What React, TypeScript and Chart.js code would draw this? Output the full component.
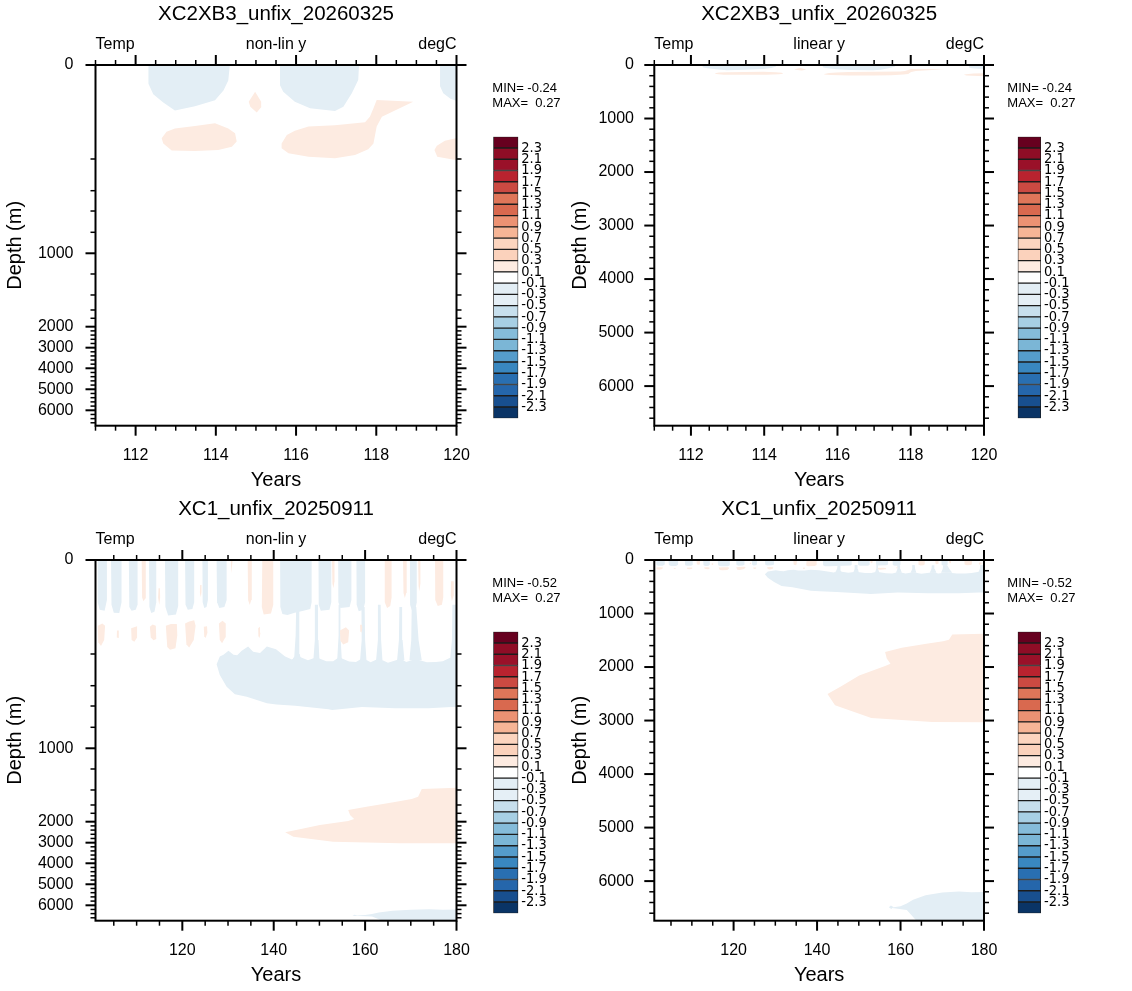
import { useEffect, useRef } from 'react';
import { Chart, registerables } from 'chart.js';

Chart.register(...registerables);

const FONT = "'Liberation Sans', Arial, Helvetica, sans-serif";
const NARROW_FONT = "'Liberation Sans Narrow', 'DejaVu Sans Condensed', 'Liberation Sans', sans-serif";

// Contour levels (degC) and the 25 fill colours between them, coldest first.
const CONTOUR_LEVELS = [-2.3, -2.1, -1.9, -1.7, -1.5, -1.3, -1.1, -0.9, -0.7, -0.5, -0.3, -0.1, 0.1, 0.3, 0.5, 0.7, 0.9, 1.1, 1.3, 1.5, 1.7, 1.9, 2.1, 2.3];
const CONTOUR_COLORS = [
  '#0a3466', '#184f8f', '#2566ab', '#296fb1', '#3987c0', '#559ccb', '#7bb6d6', '#85bcda', '#a7cfe4',
  '#c7dfed', '#e5eff6', '#e3eef5', '#ffffff', '#fdebe1', '#fbd2bc', '#fcd5bf', '#f6b596', '#ec9273',
  '#d9694f', '#df7659', '#cb4a42', '#b9232f', '#9a1129', '#8f0d26', '#67001f',
];

// Depth axis (m)
const MAX_DEPTH = 6740;
const DEPTH_TICKS = [0, 1000, 2000, 3000, 4000, 5000, 6000];
const DEPTH_MINOR_STEP = 200;
// Model-level (non-linear) depth axis: depth knots and their position down the axis (0 = surface, 1 = bottom)
const LEVEL_DEPTHS = [0, 200, 400, 600, 800, 1000, 1200, 1400, 1600, 1800, 2000, 3000, 4000, 5000, 6000, 6740];
const LEVEL_POSITIONS = [0, 0.2606, 0.3485, 0.4048, 0.4638, 0.522, 0.5794, 0.6376, 0.6792, 0.7022, 0.7255, 0.7837, 0.8408, 0.899, 0.9573, 1];

// Anomaly classes used for the shaded regions (degC)
const WARM_CLASS = 0.2;
const COOL_CLASS = -0.2;

type Pt = [number, number]; // [year, depth]

// ---- XC2XB3_unfix_20260325 (years 111-120) ----
const XC2XB3_YEARS = [111, 120];
const XC2XB3_YEAR_TICKS = [112, 114, 116, 118, 120];
const XC2XB3_MIN = -0.24;
const XC2XB3_MAX = 0.27;
const XC2XB3_WARM: Pt[][] = [
  [[114.98, 57], [114.82, 78], [114.86, 89], [115.02, 101], [115.14, 89], [115.13, 78]],
  [[112.65, 156], [112.77, 142], [112.98, 135], [113.48, 130], [113.98, 124], [114.31, 135], [114.48, 145], [114.52, 163], [114.4, 174], [114.06, 181], [113.48, 183], [112.9, 182], [112.69, 167]],
  [[115.64, 167], [115.77, 149], [115.97, 140], [116.31, 131], [116.97, 128], [117.72, 122], [117.84, 110], [117.93, 92], [118.01, 74.5], [118.92, 78], [118.14, 110], [118.01, 131], [117.93, 167], [117.8, 179.5], [117.47, 191.5], [116.97, 198.5], [116.31, 195], [115.81, 188], [115.64, 177]],
  [[120.2, 152], [119.71, 161], [119.51, 172], [119.45, 181], [119.52, 195], [120.2, 217]],
];
const XC2XB3_COOL: Pt[][] = [
  [[112.32, 0], [112.32, 40], [112.44, 62], [112.69, 80], [112.98, 97], [113.48, 88], [113.98, 75], [114.19, 54], [114.31, 33], [114.35, 0]],
  [[115.6, 0], [115.6, 43], [115.68, 57], [115.97, 78], [116.35, 92], [116.97, 98], [117.18, 89], [117.39, 60], [117.55, 32], [117.57, 0]],
  [[119.59, 0], [119.59, 45], [119.67, 60], [119.85, 72], [120.2, 82], [120.2, 0]],
];

// ---- XC1_unfix_20250911 (years 101-180) ----
const XC1_YEARS = [101, 180];
const XC1_YEAR_TICKS = [120, 140, 160, 180];
const XC1_MIN = -0.52;
const XC1_MAX = 0.27;
const XC1_WARM: Pt[][] = [
  // near-surface streaks
  [[111.1, 0], [111.2, 80], [111.5, 88], [111.9, 82], [112.0, 0]],
  [[114.8, 60], [114.7, 80], [114.95, 96], [115.15, 80], [115.1, 60]],
  [[123.9, 53], [123.85, 70], [124.05, 79], [124.2, 68], [124.2, 53]],
  [[130.6, 0], [130.75, 28], [131.0, 0]],
  [[134.3, 0], [134.4, 85], [134.75, 96], [135.1, 85], [135.2, 0]],
  [[137.5, 0], [137.4, 100], [137.8, 116], [139.4, 114], [139.9, 95], [139.9, 0]],
  [[152.75, 0], [152.85, 50], [153.05, 60], [153.3, 45], [153.3, 0]],
  [[164.3, 0], [164.3, 90], [164.8, 102], [165.5, 98], [165.8, 80], [165.8, 0]],
  [[168.3, 0], [168.4, 70], [168.7, 81], [169.0, 70], [169.1, 0]],
  [[171.6, 0], [171.7, 55], [171.85, 67], [172.1, 50], [172.1, 0]],
  [[175.3, 0], [175.35, 85], [175.9, 98], [176.8, 95], [177.1, 80], [177.1, 0]],
  [[178.8, 45], [178.75, 75], [179.0, 88], [179.4, 75], [179.4, 45]],
  // sub-surface lenses
  [[101.5, 140], [101.6, 175], [102.2, 183], [102.9, 170], [103.1, 140], [102.5, 135]],
  [[105.7, 150], [105.65, 165], [106.1, 166], [106.1, 150]],
  [[108.8, 145], [108.9, 170], [109.5, 174], [110.1, 165], [110.1, 141]],
  [[112.9, 142], [113.1, 165], [113.7, 171], [114.3, 168], [114.2, 140], [113.5, 137]],
  [[116.4, 140], [116.7, 185], [117.3, 191], [118.5, 188], [118.9, 160], [118.8, 136], [117.5, 136]],
  [[120.6, 135], [120.9, 180], [121.5, 186], [122.5, 170], [122.9, 140], [122.6, 128], [121.5, 131]],
  [[124.7, 142], [124.8, 162], [125.1, 166], [125.5, 155], [125.4, 141]],
  [[128.0, 135], [128.2, 170], [128.7, 177], [129.4, 165], [129.5, 135], [128.8, 129]],
  [[136.6, 145], [136.65, 162], [136.9, 166], [137.1, 155], [137.0, 142]],
  [[154.5, 150], [154.6, 172], [155.2, 180], [156.3, 175], [156.5, 150], [155.8, 143]],
  [[158.9, 138], [158.95, 152], [159.2, 155], [159.4, 145], [159.3, 138]],
  // deep warm tongue
  [[180.5, 1378], [172.4, 1390], [171.6, 1489], [170.2, 1520], [166.2, 1564], [160.3, 1641], [156.3, 1720], [156.7, 1841], [157.6, 1937], [156.3, 1983], [150.1, 2157], [145.7, 2362], [142.5, 2505], [144.3, 2714], [153.0, 2952], [167.6, 3029], [180.5, 3030]],
];
const XC1_COOL: Pt[][] = [
  // near-surface streaks
  [[101.5, 0], [101.5, 90], [101.9, 106], [103.0, 108], [103.5, 85], [103.5, 0]],
  [[104.4, 0], [104.5, 95], [105.0, 112], [106.2, 113], [106.7, 90], [106.7, 0]],
  [[108.3, 0], [108.4, 100], [108.9, 108], [109.8, 106], [110.2, 95], [110.2, 0]],
  [[112.7, 0], [112.8, 100], [113.2, 113], [113.9, 110], [114.3, 90], [114.3, 0]],
  [[116.2, 0], [116.3, 100], [116.9, 118], [118.6, 116], [119.1, 98], [119.1, 0]],
  [[120.6, 0], [120.7, 95], [121.2, 106], [122.2, 104], [122.6, 90], [122.6, 0]],
  [[124.4, 0], [124.45, 90], [124.8, 102], [125.3, 100], [125.6, 85], [125.6, 0]],
  [[127.5, 0], [127.6, 90], [128.1, 102], [129.2, 100], [129.7, 85], [129.7, 0]],
  [[141.4, 0], [141.45, 100], [141.9, 115], [143.0, 117], [144.6, 112], [146.5, 108], [148.0, 104], [148.3, 90], [148.3, 0]],
  [[149.8, 0], [149.85, 95], [150.3, 108], [152.2, 106], [152.6, 90], [152.6, 0]],
  [[154.1, 0], [154.15, 90], [154.6, 102], [156.6, 100], [157.0, 85], [157.0, 0]],
  [[158.1, 0], [158.15, 95], [158.6, 109], [159.6, 106], [160.0, 90], [160.0, 0]],
  [[169.8, 0], [169.85, 95], [170.3, 109], [171.0, 105], [171.3, 90], [171.3, 0]],
  // fingers joining the streaks to the sub-surface cool layer
  [[144.9, 108], [144.8, 160], [144.5, 215], [144.0, 240], [146.0, 240], [145.7, 200], [145.6, 160], [145.6, 108]],
  [[149.0, 95], [149.0, 170], [148.7, 230], [150.0, 235], [149.8, 170], [149.7, 95]],
  [[154.2, 95], [154.2, 160], [153.9, 235], [154.9, 235], [154.6, 160], [154.6, 95]],
  [[159.2, 100], [159.25, 170], [158.9, 240], [160.3, 240], [160.0, 170], [159.9, 100]],
  [[162.8, 95], [162.8, 170], [162.4, 240], [163.8, 240], [163.5, 170], [163.4, 95]],
  [[167.5, 100], [167.4, 170], [167.0, 240], [168.6, 240], [168.2, 170], [168.1, 100]],
  [[170.2, 100], [170.1, 170], [169.7, 240], [172.4, 240], [171.7, 170], [171.2, 100]],
  [[179.1, 95], [179.0, 170], [178.6, 235], [180.5, 235], [180.5, 95]],
  // sub-surface cool layer
  [[127.5, 265], [128.2, 215], [129.0, 204], [130.1, 193], [131.2, 204], [132.0, 208], [133.0, 193], [134.4, 184], [135.5, 195], [137.0, 198], [138.5, 184], [140.5, 190], [142.5, 215], [144.0, 235], [145.5, 215], [147.5, 240], [149.3, 220], [151.5, 245], [153.0, 245], [154.3, 220], [156.5, 248], [158.0, 250], [159.5, 225], [161.2, 252], [163.0, 228], [165.0, 255], [167.8, 230], [169.0, 250], [171.0, 232], [173.5, 252], [175.5, 250], [177.0, 245], [178.5, 225], [180.5, 225],
   [180.5, 609], [178.9, 609], [173.9, 622], [166.6, 622], [159.3, 609], [152.8, 637], [152.0, 631], [144.7, 597], [140.6, 584], [138.5, 574], [134.1, 508], [131.5, 485], [129.7, 410], [128.2, 333]],
  // bottom water
  [[157.5, 6500], [160, 6470], [161.5, 6420], [163, 6350], [166, 6265], [170, 6215], [174, 6195], [177, 6210], [180.5, 6200], [180.5, 6800], [164.5, 6800], [161.5, 6540]],
  [[157.2, 6490], [157.7, 6455], [158.3, 6485], [157.8, 6520]],
];

type AxisKind = 'levels' | 'linear';

interface PanelSpec {
  id: string;
  pageX: number;
  pageY: number;
  plotLeft: number;
  plotRight: number;
  yLabelPad: number;
  yTitlePad: number;
  axis: AxisKind;
  title: string;
  years: number[];
  yearTicks: number[];
  yearMinorStep: number;
  warm: Pt[][];
  cool: Pt[][];
  min: number;
  max: number;
  statsX: number;
}

interface BarSpec {
  id: string;
  pageX: number;
  pageY: number;
  padLeft: number;
  padTop: number;
  padBottom: number;
  axisWidth: number;
}

const CANVAS_W = 566;
const CANVAS_H = 495;
const PLOT_TOP = 65;
const PLOT_BOTTOM = 425.7;

const PANELS: PanelSpec[] = [
  { id: 'tl', pageX: 0, pageY: 0, plotLeft: 95.5, plotRight: 456.5, yLabelPad: 22, yTitlePad: 3, axis: 'levels', title: 'XC2XB3_unfix_20260325', years: XC2XB3_YEARS, yearTicks: XC2XB3_YEAR_TICKS, yearMinorStep: 0.5, warm: XC2XB3_WARM, cool: XC2XB3_COOL, min: XC2XB3_MIN, max: XC2XB3_MAX, statsX: 492.3 },
  { id: 'tr', pageX: 566, pageY: 0, plotLeft: 88.3, plotRight: 418, yLabelPad: 20.3, yTitlePad: 2.5, axis: 'linear', title: 'XC2XB3_unfix_20260325', years: XC2XB3_YEARS, yearTicks: XC2XB3_YEAR_TICKS, yearMinorStep: 0.5, warm: XC2XB3_WARM, cool: XC2XB3_COOL, min: XC2XB3_MIN, max: XC2XB3_MAX, statsX: 441.3 },
  { id: 'bl', pageX: 0, pageY: 495, plotLeft: 95.5, plotRight: 456.5, yLabelPad: 22, yTitlePad: 3, axis: 'levels', title: 'XC1_unfix_20250911', years: XC1_YEARS, yearTicks: XC1_YEAR_TICKS, yearMinorStep: 5, warm: XC1_WARM, cool: XC1_COOL, min: XC1_MIN, max: XC1_MAX, statsX: 492.3 },
  { id: 'br', pageX: 566, pageY: 495, plotLeft: 88.3, plotRight: 418, yLabelPad: 20.3, yTitlePad: 2.5, axis: 'linear', title: 'XC1_unfix_20250911', years: XC1_YEARS, yearTicks: XC1_YEAR_TICKS, yearMinorStep: 5, warm: XC1_WARM, cool: XC1_COOL, min: XC1_MIN, max: XC1_MAX, statsX: 441.3 },
];

const COLORBARS: BarSpec[] = [
  { id: 'cb-tl', pageX: 488, pageY: 125, padLeft: 5.3, padTop: 7.7, padBottom: 7.7, axisWidth: 33.7 },
  { id: 'cb-tr', pageX: 1012, pageY: 125, padLeft: 5.7, padTop: 6.7, padBottom: 6.7, axisWidth: 35 },
  { id: 'cb-bl', pageX: 488, pageY: 620, padLeft: 5.3, padTop: 7.7, padBottom: 7.7, axisWidth: 33.7 },
  { id: 'cb-br', pageX: 1012, pageY: 620, padLeft: 5.7, padTop: 6.7, padBottom: 6.7, axisWidth: 35 },
];

function interp(v: number, xs: number[], ys: number[]): number {
  if (v <= xs[0]) return ys[0] + (v - xs[0]) * (ys[1] - ys[0]) / (xs[1] - xs[0]);
  for (let i = 1; i < xs.length; i++) {
    if (v <= xs[i]) return ys[i - 1] + (v - xs[i - 1]) * (ys[i] - ys[i - 1]) / (xs[i] - xs[i - 1]);
  }
  const n = xs.length - 1;
  return ys[n] + (v - xs[n]) * (ys[n] - ys[n - 1]) / (xs[n] - xs[n - 1]);
}

function depthToAxis(kind: AxisKind, depth: number): number {
  return kind === 'levels' ? interp(depth, LEVEL_DEPTHS, LEVEL_POSITIONS) : depth;
}

function fillColor(value: number): string {
  let i = 0;
  while (i < CONTOUR_LEVELS.length && value >= CONTOUR_LEVELS[i]) i++;
  return CONTOUR_COLORS[i];
}

function fmtStat(v: number): string {
  return v < 0 ? v.toFixed(2) : ' ' + v.toFixed(2);
}

function regionDataset(poly: Pt[], value: number, toY: (d: number) => number) {
  return {
    data: poly.map(([yr, d]) => ({ x: yr, y: toY(d) })),
    backgroundColor: fillColor(value),
    borderColor: fillColor(value),
    borderWidth: 0,
    pointRadius: 0,
    pointHoverRadius: 0,
    tension: 0,
    fill: 'shape',
  };
}

function framePlugin(spec: PanelSpec, toY: (d: number) => number) {
  return {
    id: 'ncarFrame',
    afterDraw(chart: any) {
      const { ctx, chartArea: a, scales } = chart;
      const xs = scales.x;
      const ys = scales.y;
      const seg = (x1: number, y1: number, x2: number, y2: number, w: number) => {
        ctx.lineWidth = w;
        ctx.beginPath();
        ctx.moveTo(x1, y1);
        ctx.lineTo(x2, y2);
        ctx.stroke();
      };
      ctx.save();
      ctx.strokeStyle = '#000';
      ctx.lineCap = 'butt';

      // year ticks on bottom and top edges
      for (const v of spec.yearTicks) {
        const p = xs.getPixelForValue(v);
        seg(p, a.bottom, p, a.bottom + 10, 2);
        seg(p, a.top, p, a.top - 10, 2);
      }
      const step = spec.yearMinorStep;
      for (let v = Math.ceil(spec.years[0] / step) * step; v <= spec.years[1] + 1e-9; v += step) {
        if (spec.yearTicks.some((t) => Math.abs(t - v) < 1e-9)) continue;
        const p = xs.getPixelForValue(v);
        seg(p, a.bottom, p, a.bottom + 5, 1.5);
        seg(p, a.top, p, a.top - 5, 1.5);
      }

      // depth ticks on left and right edges
      for (const d of DEPTH_TICKS) {
        const p = ys.getPixelForValue(toY(d));
        seg(a.left - 10, p, a.left, p, 2);
        seg(a.right, p, a.right + 10, p, 2);
      }
      for (let d = 0; d <= MAX_DEPTH; d += DEPTH_MINOR_STEP) {
        if (DEPTH_TICKS.includes(d)) continue;
        const p = ys.getPixelForValue(toY(d));
        seg(a.left - 5, p, a.left, p, 1.5);
        seg(a.right, p, a.right + 5, p, 1.5);
      }

      ctx.lineWidth = 2;
      ctx.strokeRect(a.left, a.top, a.right - a.left, a.bottom - a.top);

      // header strings
      ctx.fillStyle = '#000';
      ctx.textBaseline = 'alphabetic';
      ctx.font = `16px ${FONT}`;
      ctx.textAlign = 'left';
      ctx.fillText('Temp', a.left, 49.3);
      ctx.textAlign = 'center';
      ctx.fillText(spec.axis === 'levels' ? 'non-lin y' : 'linear y', (a.left + a.right) / 2, 49.3);
      ctx.textAlign = 'right';
      ctx.fillText('degC', a.right, 49.3);

      // field range
      ctx.font = `13px ${FONT}`;
      ctx.textAlign = 'left';
      ctx.fillText(`MIN= ${fmtStat(spec.min)}`, spec.statsX, 91.7);
      ctx.fillText(`MAX= ${fmtStat(spec.max)}`, spec.statsX, 106.7);
      ctx.restore();
    },
  };
}

function panelConfig(spec: PanelSpec): any {
  const toY = (d: number) => depthToAxis(spec.axis, d);
  const datasets = [
    ...spec.warm.map((poly) => regionDataset(poly, WARM_CLASS, toY)),
    ...spec.cool.map((poly) => regionDataset(poly, COOL_CLASS, toY)),
  ];
  return {
    type: 'line',
    data: { datasets },
    options: {
      animation: false,
      responsive: false,
      maintainAspectRatio: false,
      events: [],
      layout: { padding: { left: 0, top: 0, right: CANVAS_W - spec.plotRight, bottom: 0 } },
      plugins: {
        legend: { display: false },
        tooltip: { enabled: false },
        title: {
          display: true,
          text: spec.title,
          fullSize: false,
          color: '#000',
          font: { family: FONT, size: 20.5, weight: 'normal', lineHeight: 1.2 },
          padding: { top: 1.7, bottom: PLOT_TOP - 1.7 - 24.6 },
        },
      },
      scales: {
        x: {
          type: 'linear',
          position: 'bottom',
          min: spec.years[0],
          max: spec.years[1],
          grid: { display: false, drawTicks: false },
          border: { display: false },
          afterBuildTicks: (s: any) => {
            s.ticks = spec.yearTicks.map((v) => ({ value: v }));
          },
          afterFit: (s: any) => {
            s.height = CANVAS_H - PLOT_BOTTOM;
          },
          ticks: {
            autoSkip: false,
            maxRotation: 0,
            padding: 19.8,
            color: '#000',
            font: { family: FONT, size: 16 },
            callback: (v: number) => String(v),
          },
          title: {
            display: true,
            text: 'Years',
            color: '#000',
            font: { family: FONT, size: 20 },
            padding: { top: 0, bottom: 3 },
          },
        },
        y: {
          type: 'linear',
          position: 'left',
          reverse: true,
          min: toY(0),
          max: toY(MAX_DEPTH),
          grid: { display: false, drawTicks: false },
          border: { display: false },
          afterBuildTicks: (s: any) => {
            s.ticks = DEPTH_TICKS.map((d) => ({ value: toY(d) }));
          },
          afterFit: (s: any) => {
            s.width = spec.plotLeft;
          },
          ticks: {
            autoSkip: false,
            padding: spec.yLabelPad,
            color: '#000',
            font: { family: FONT, size: 16 },
            callback: (_v: number, i: number) => String(DEPTH_TICKS[i]),
          },
          title: {
            display: true,
            text: 'Depth (m)',
            color: '#000',
            font: { family: FONT, size: 20 },
            padding: { top: spec.yTitlePad, bottom: 0 },
          },
        },
      },
    },
    plugins: [framePlugin(spec, toY)],
  };
}

function colorBarConfig(spec: BarSpec): any {
  return {
    type: 'bar',
    data: {
      labels: [''],
      datasets: CONTOUR_COLORS.map((c) => ({
        data: [1],
        backgroundColor: c,
        borderColor: '#1c1c1c',
        borderWidth: 1,
        borderSkipped: false,
        barPercentage: 1,
        categoryPercentage: 1,
      })),
    },
    options: {
      animation: false,
      responsive: false,
      maintainAspectRatio: false,
      events: [],
      layout: { padding: { left: spec.padLeft, top: spec.padTop, bottom: spec.padBottom, right: 0 } },
      plugins: { legend: { display: false }, tooltip: { enabled: false } },
      scales: {
        x: { display: false, stacked: true },
        y: {
          position: 'right',
          stacked: true,
          min: 0,
          max: CONTOUR_COLORS.length,
          grid: { display: false, drawTicks: false },
          border: { display: false },
          afterBuildTicks: (s: any) => {
            s.ticks = CONTOUR_LEVELS.map((_l, i) => ({ value: i + 1 }));
          },
          afterFit: (s: any) => {
            s.width = spec.axisWidth;
          },
          ticks: {
            autoSkip: false,
            padding: 3,
            color: '#000',
            font: { family: NARROW_FONT, size: 14.5 },
            callback: (_v: number, i: number) => String(CONTOUR_LEVELS[i]),
          },
        },
      },
    },
  };
}

function Panel({ spec }: { spec: PanelSpec }) {
  const ref = useRef<HTMLCanvasElement>(null);
  useEffect(() => {
    if (!ref.current) return;
    const chart = new Chart(ref.current, panelConfig(spec));
    return () => chart.destroy();
  }, [spec]);
  return (
    <canvas
      ref={ref}
      width={CANVAS_W}
      height={CANVAS_H}
      style={{ position: 'absolute', left: spec.pageX, top: spec.pageY, width: CANVAS_W, height: CANVAS_H }}
    />
  );
}

function ColorBar({ spec }: { spec: BarSpec }) {
  const ref = useRef<HTMLCanvasElement>(null);
  useEffect(() => {
    if (!ref.current) return;
    const chart = new Chart(ref.current, colorBarConfig(spec));
    return () => chart.destroy();
  }, [spec]);
  return (
    <canvas
      ref={ref}
      width={64}
      height={305}
      style={{ position: 'absolute', left: spec.pageX, top: spec.pageY, width: 64, height: 305 }}
    />
  );
}

export default function App() {
  return (
    <div style={{ position: 'fixed', left: 0, top: 0, width: 1132, height: 991, background: '#ffffff', overflow: 'hidden' }}>
      {PANELS.map((p) => (
        <Panel key={p.id} spec={p} />
      ))}
      {COLORBARS.map((c) => (
        <ColorBar key={c.id} spec={c} />
      ))}
    </div>
  );
}
